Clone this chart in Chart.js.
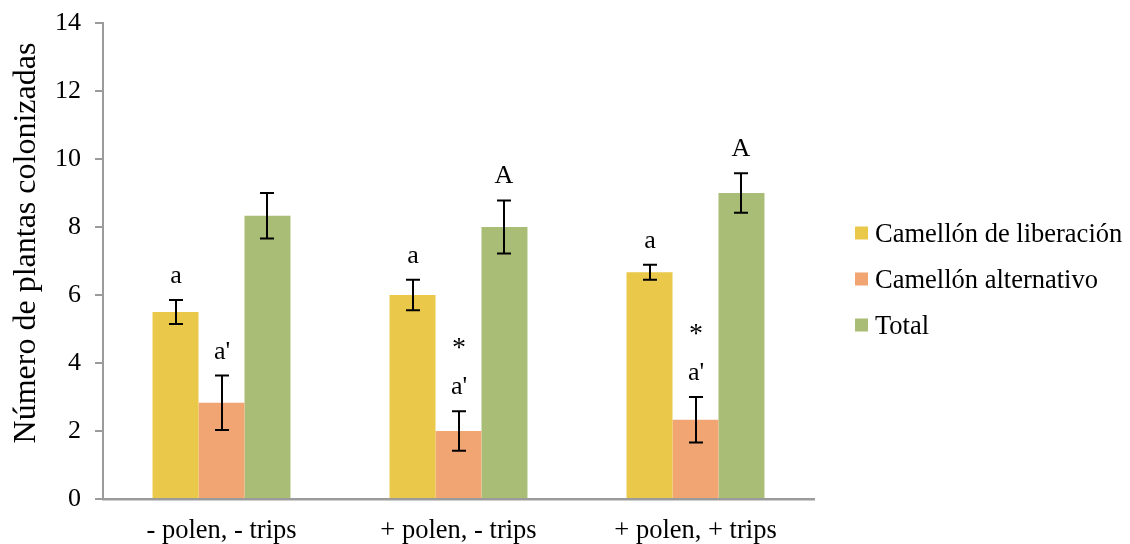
<!DOCTYPE html>
<html>
<head>
<meta charset="utf-8">
<script src="https://cdn.jsdelivr.net/npm/chart.js@4"></script>
<style>
  html, body { margin: 0; padding: 0; background: #fff; }
  #wrap { width: 1130px; height: 544px; }
</style>
</head>
<body>
<div id="wrap"><canvas id="c" width="1130" height="544"></canvas></div>
<script>
// Treatments
const categories = ['- polen, - trips', '+ polen, - trips', '+ polen, + trips'];

// Mean number of colonized plants per ridge
const liberacion = [5.5, 6.0, 6.67];
const alternativo = [2.83, 2.0, 2.33];
const total = [8.33, 8.0, 9.0];

// Standard errors
const liberacionSE = [0.35, 0.45, 0.22];
const alternativoSE = [0.8, 0.58, 0.67];
const totalSE = [0.67, 0.78, 0.58];

// Significance letters
const liberacionLetters = ['a', 'a', 'a'];
const alternativoLetters = ["a'", "a'", "a'"];
const totalLetters = ['', 'A', 'A'];
const alternativoStars = ['', '*', '*'];

const yTicks = [0, 2, 4, 6, 8, 10, 12, 14];
const yTitle = 'Número de plantas colonizadas';

const FONT = "'Liberation Serif', 'Times New Roman', serif";
const AXIS_GRAY = '#9b9b9b';

const seByDataset = [liberacionSE, alternativoSE, totalSE];
const lettersByDataset = [liberacionLetters, alternativoLetters, totalLetters];

// Error bars with significance letters
const errorBarsPlugin = {
  id: 'errorBars',
  afterDatasetsDraw(chart) {
    const ctx = chart.ctx;
    const y = chart.scales.y;
    ctx.save();
    chart.data.datasets.forEach((ds, i) => {
      const meta = chart.getDatasetMeta(i);
      meta.data.forEach((bar, j) => {
        const v = ds.data[j];
        const se = seByDataset[i][j];
        const top = y.getPixelForValue(v + se);
        const bot = y.getPixelForValue(v - se);
        const x = Math.round(bar.x);
        ctx.strokeStyle = '#000';
        ctx.lineWidth = 2;
        ctx.beginPath();
        ctx.moveTo(x, top); ctx.lineTo(x, bot);
        ctx.moveTo(x - 7, top); ctx.lineTo(x + 7, top);
        ctx.moveTo(x - 7, bot); ctx.lineTo(x + 7, bot);
        ctx.stroke();

        ctx.fillStyle = '#000';
        ctx.textAlign = 'center';
        ctx.textBaseline = 'alphabetic';
        ctx.font = '26px ' + FONT;
        const letter = lettersByDataset[i][j];
        const base = top - 17;
        if (letter) ctx.fillText(letter, x, base);
        if (i === 1 && alternativoStars[j]) {
          ctx.font = '28px ' + FONT;
          ctx.fillText(alternativoStars[j], x, base - 38);
        }
      });
    });
    ctx.restore();
  }
};

// Vertical axis title and the legend to the right of the plot
const sideTextPlugin = {
  id: 'sideText',
  afterDraw(chart) {
    const ctx = chart.ctx;
    const area = chart.chartArea;
    ctx.save();
    ctx.fillStyle = '#000';

    ctx.save();
    ctx.translate(35, area.top + (area.bottom - area.top) / 2 - 18);
    ctx.rotate(-Math.PI / 2);
    ctx.font = '32px ' + FONT;
    ctx.textAlign = 'center';
    ctx.textBaseline = 'alphabetic';
    ctx.fillText(yTitle, 0, 0);
    ctx.restore();

    const boxX = area.right + 41;
    const firstY = 233;
    const step = 46;
    ctx.font = '26.5px ' + FONT;
    ctx.textAlign = 'left';
    ctx.textBaseline = 'alphabetic';
    chart.data.datasets.forEach((ds, i) => {
      const cy = firstY + i * step;
      ctx.fillStyle = ds.backgroundColor;
      ctx.fillRect(boxX, cy - 6.5, 13, 13);
      ctx.fillStyle = '#000';
      ctx.fillText(ds.label, boxX + 20, cy + 9);
    });
    ctx.restore();
  }
};

new Chart(document.getElementById('c'), {
  type: 'bar',
  data: {
    labels: categories,
    datasets: [
      { label: 'Camellón de liberación', data: liberacion, backgroundColor: '#e9c84a' },
      { label: 'Camellón alternativo', data: alternativo, backgroundColor: '#f0a572' },
      { label: 'Total', data: total, backgroundColor: '#a9bd76' }
    ]
  },
  options: {
    responsive: false,
    animation: false,
    layout: { padding: { top: 23, bottom: 0, left: 0, right: 316 } },
    datasets: { bar: { categoryPercentage: 0.582, barPercentage: 1.0 } },
    plugins: {
      tooltip: { enabled: false },
      legend: { display: false }
    },
    scales: {
      x: {
        grid: { display: false, drawTicks: false },
        border: { display: true, color: AXIS_GRAY, width: 2.5 },
        ticks: { color: '#000', font: { family: FONT, size: 26.5 }, padding: 16, maxRotation: 0 },
        afterFit(scale) { scale.height = 45; }
      },
      y: {
        min: 0,
        max: 14,
        afterBuildTicks(scale) { scale.ticks = yTicks.map(v => ({ value: v })); },
        grid: { display: true, drawOnChartArea: false, drawTicks: true, tickLength: 8, color: AXIS_GRAY, lineWidth: 2 },
        border: { display: true, color: AXIS_GRAY, width: 2 },
        ticks: { color: '#000', font: { family: FONT, size: 26 }, padding: 14 },
        afterFit(scale) {
          scale.width = 103;
          scale.paddingTop = 0;
          scale.paddingBottom = 0;
        }
      }
    }
  },
  plugins: [errorBarsPlugin, sideTextPlugin]
});
</script>
</body>
</html>
